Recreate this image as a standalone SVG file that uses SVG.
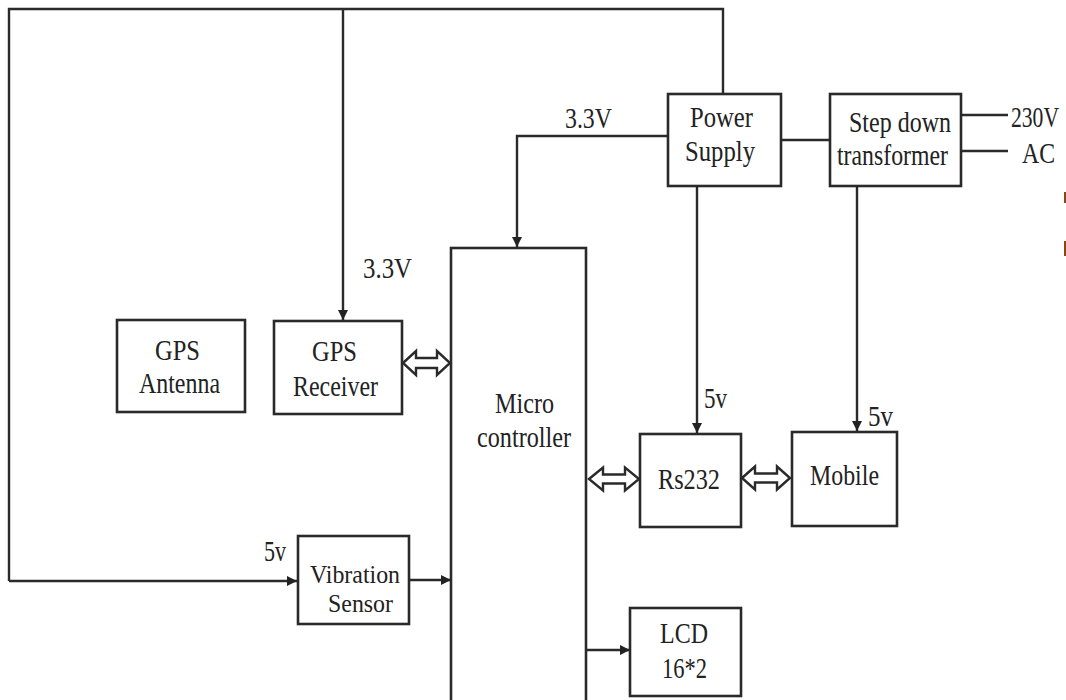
<svg xmlns="http://www.w3.org/2000/svg" width="1066" height="700" viewBox="0 0 1066 700">
<defs>
<marker id="ah" markerWidth="10" markerHeight="10" refX="10" refY="5" orient="auto" markerUnits="userSpaceOnUse" viewBox="0 0 10 10">
<path d="M0,0 L10,5 L0,10 Z" fill="#222"/>
</marker>
</defs>
<style>
.box{fill:#fff;stroke:#2a2a2a;stroke-width:2.6}
.ln{fill:none;stroke:#2a2a2a;stroke-width:2.4}
.dbl{fill:#fff;stroke:#2a2a2a;stroke-width:2.4;stroke-linejoin:miter}
text{font-family:"Liberation Serif","Times New Roman",serif;font-size:29px;fill:#222}
.sm{font-size:26px}
</style>
<rect width="1066" height="700" fill="#fff"/>
<g id="connectors">
<polyline class="ln" points="9,581 9,9 723,9 723,94"/>
<line class="ln" x1="343" y1="9" x2="343" y2="320" marker-end="url(#ah)"/>
<polyline class="ln" points="668,136 517,136 517,247" marker-end="url(#ah)"/>
<line class="ln" x1="697" y1="186" x2="697" y2="433" marker-end="url(#ah)"/>
<line class="ln" x1="781" y1="140" x2="830" y2="140"/>
<line class="ln" x1="857" y1="186" x2="857" y2="431" marker-end="url(#ah)"/>
<line class="ln" x1="961" y1="115" x2="1008" y2="115"/>
<line class="ln" x1="961" y1="151" x2="1008" y2="151"/>
<line class="ln" x1="9" y1="581" x2="297" y2="581" marker-end="url(#ah)"/>
<line class="ln" x1="409" y1="580" x2="451" y2="580" marker-end="url(#ah)"/>
<line class="ln" x1="586" y1="650" x2="630" y2="650" marker-end="url(#ah)"/>
<polygon class="dbl" points="403,363 416,351 416,358 437,358 437,351 450,363 437,375 437,368 416,368 416,375"/>
<polygon class="dbl" points="589,479 603,467.5 603,474.5 625,474.5 625,467.5 639,479 625,490.5 625,483.5 603,483.5 603,490.5"/>
<polygon class="dbl" points="742,478 755,466.5 755,473.5 777,473.5 777,466.5 790,478 777,489.5 777,482.5 755,482.5 755,489.5"/>
<rect x="1064" y="192" width="2" height="11" fill="#8b4513"/>
<rect x="1064" y="241" width="2" height="15" fill="#8b4513"/>
</g>
<g id="power-supply">
<rect class="box" x="668" y="94" width="113" height="92"/>
<text x="690" y="127" textLength="63" lengthAdjust="spacingAndGlyphs">Power</text>
<text x="685" y="161" textLength="70" lengthAdjust="spacingAndGlyphs">Supply</text>
</g>
<g id="step-down">
<rect class="box" x="830" y="94" width="131" height="92"/>
<text x="849" y="132" textLength="102" lengthAdjust="spacingAndGlyphs">Step down</text>
<text x="837" y="165" textLength="111" lengthAdjust="spacingAndGlyphs">transformer</text>
</g>
<g id="ac-labels">
<text x="1011" y="127" textLength="48" lengthAdjust="spacingAndGlyphs">230V</text>
<text x="1022" y="163" textLength="33" lengthAdjust="spacingAndGlyphs">AC</text>
<text x="565" y="128" textLength="47" lengthAdjust="spacingAndGlyphs">3.3V</text>
<text x="363" y="278" textLength="49" lengthAdjust="spacingAndGlyphs">3.3V</text>
<text x="704" y="408" textLength="23" lengthAdjust="spacingAndGlyphs">5v</text>
<text x="868" y="426" textLength="25" lengthAdjust="spacingAndGlyphs">5v</text>
<text x="264" y="561" textLength="22" lengthAdjust="spacingAndGlyphs">5v</text>
</g>
<g id="gps-antenna">
<rect class="box" x="117" y="320" width="128" height="92"/>
<text x="155" y="360" textLength="45" lengthAdjust="spacingAndGlyphs">GPS</text>
<text x="139" y="393" textLength="81" lengthAdjust="spacingAndGlyphs">Antenna</text>
</g>
<g id="gps-receiver">
<rect class="box" x="274" y="321" width="128" height="93"/>
<text x="312" y="361" textLength="45" lengthAdjust="spacingAndGlyphs">GPS</text>
<text x="293" y="396" textLength="85" lengthAdjust="spacingAndGlyphs">Receiver</text>
</g>
<g id="microcontroller">
<rect class="box" x="451" y="248" width="135" height="470"/>
<text x="495" y="413" textLength="59" lengthAdjust="spacingAndGlyphs">Micro</text>
<text x="477" y="447" textLength="94" lengthAdjust="spacingAndGlyphs">controller</text>
</g>
<g id="rs232">
<rect class="box" x="640" y="434" width="101" height="93"/>
<text x="658" y="489" textLength="62" lengthAdjust="spacingAndGlyphs">Rs232</text>
</g>
<g id="mobile">
<rect class="box" x="792" y="432" width="105" height="94"/>
<text x="810" y="485" textLength="69" lengthAdjust="spacingAndGlyphs">Mobile</text>
</g>
<g id="vibration-sensor">
<rect class="box" x="298" y="536" width="111" height="88"/>
<text class="sm" x="310" y="583" textLength="90" lengthAdjust="spacingAndGlyphs">Vibration</text>
<text class="sm" x="328" y="612" textLength="65" lengthAdjust="spacingAndGlyphs">Sensor</text>
</g>
<g id="lcd">
<rect class="box" x="630" y="608" width="111" height="88"/>
<text x="660" y="643" textLength="48" lengthAdjust="spacingAndGlyphs">LCD</text>
<text x="662" y="678" textLength="45" lengthAdjust="spacingAndGlyphs">16*2</text>
</g>
</svg>
